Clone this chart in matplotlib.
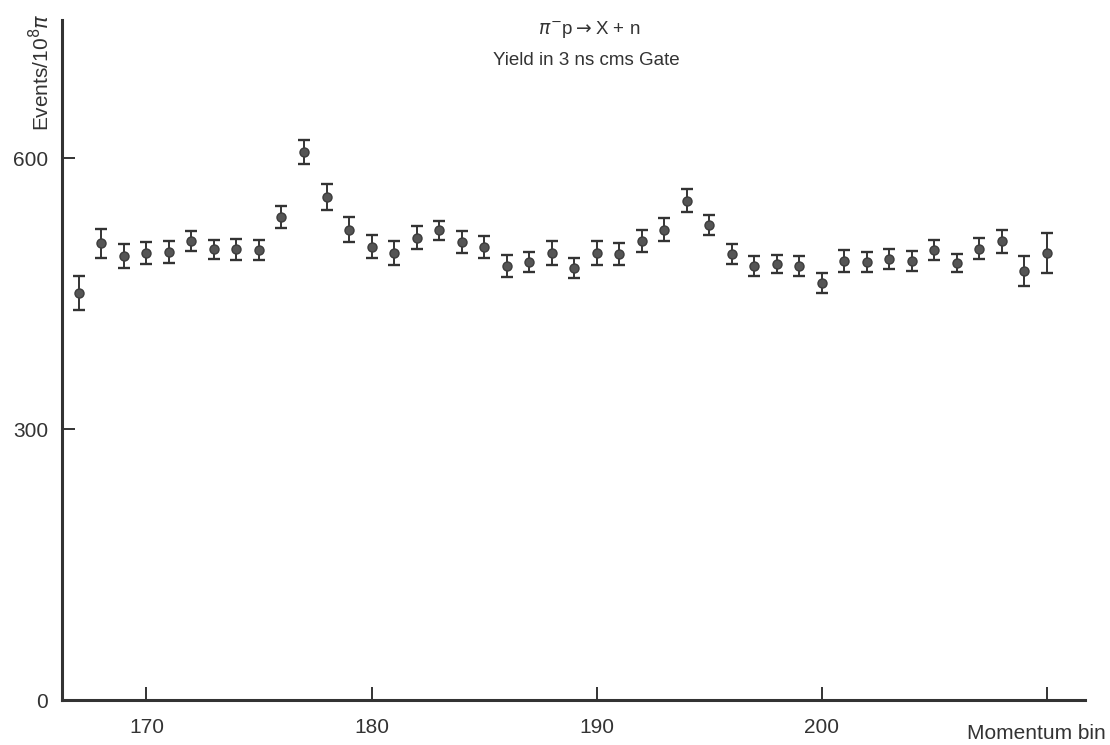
import matplotlib
matplotlib.use('Agg')
import matplotlib.pyplot as plt

# momentum bins and yield in the 3 ns cms gate (events per 10^8 pi)
bins = list(range(167, 211))
events = [451, 506, 492, 495, 496, 508, 499, 499, 498, 535,
          607, 557, 521, 502, 495, 512, 520, 507, 502, 481,
          485, 495, 478, 495, 494, 508, 521, 553, 526, 494,
          481, 483, 481, 462, 486, 485, 488, 486, 498, 484,
          500, 508, 475, 495]
errors = [19, 16, 13, 12, 12, 11, 11, 12, 11, 12,
          13, 14, 14, 13, 13, 13, 11, 12, 12, 12,
          11, 13, 11, 13, 12, 12, 13, 13, 11, 11,
          11, 10, 11, 11, 12, 11, 11, 11, 11, 10,
          12, 13, 17, 22]
x_ticks = [170, 180, 190, 200, 210]
x_tick_labels = ['170', '180', '190', '200', '']
y_ticks = [0, 300, 600]

plt.rcParams['font.family'] = ['Liberation Sans', 'DejaVu Sans']
INK = '#333333'

fig = plt.figure(figsize=(11.1, 7.45), dpi=100)
ax = fig.add_axes([0.0559, 0.0604, 0.9216, 0.9126])

ax.errorbar(bins, events, yerr=errors, fmt='o', color='#555555',
            markersize=6.5, markeredgecolor='#3c3c3c', ecolor=INK,
            elinewidth=1.4, capsize=4.3, capthick=1.7)

ax.set_xlim(166.25, 211.7)
ax.set_ylim(0, 753)
ax.set_xticks(x_ticks)
ax.set_xticklabels(x_tick_labels)
ax.set_yticks(y_ticks)

for side in ['top', 'right']:
    ax.spines[side].set_visible(False)
for side in ['left', 'bottom']:
    ax.spines[side].set_linewidth(2.2)
    ax.spines[side].set_color(INK)

ax.tick_params(axis='x', direction='in', length=9.5, width=1.4, color=INK,
               labelsize=15, labelcolor=INK, pad=13)
ax.tick_params(axis='y', direction='in', length=9, width=1.4, color=INK,
               labelsize=15, labelcolor=INK, pad=10)

fig.text(0.996, 0.016, 'Momentum bin', ha='right', va='center',
         fontsize=15, color=INK)
fig.text(0.037, 0.903, r'Events/10$^{8}\pi$', rotation=90, ha='center',
         va='center', fontsize=15, color=INK)

fig.text(0.531, 0.961, r'$\pi^{-}$p$\rightarrow$X + n', ha='center',
         va='center', fontsize=13.5, color=INK)
fig.text(0.528, 0.919, 'Yield in 3 ns cms Gate', ha='center',
         va='center', fontsize=13.5, color=INK)

fig.savefig('out.png', dpi=100)
